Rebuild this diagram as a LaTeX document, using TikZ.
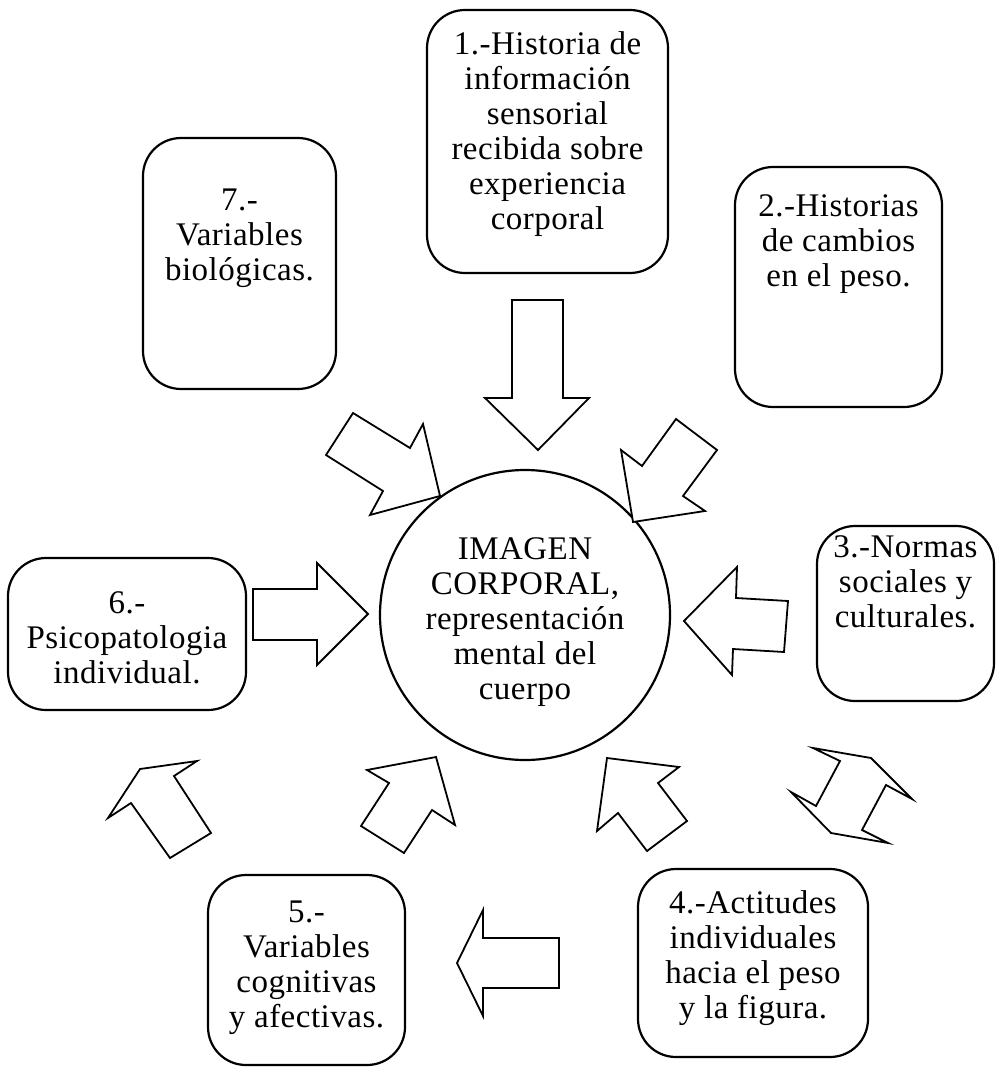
\documentclass[tikz,border=0pt]{standalone}
\usepackage{fontspec}
\setmainfont{Liberation Serif}
\begin{document}
\begin{tikzpicture}[x=1pt,y=-1pt,
  box/.style={draw,line width=2.2pt,rounded corners=38pt,inner sep=0pt,outer sep=0pt},
  txt/.style={align=center,font=\fontsize{33}{35}\selectfont\addfontfeature{LetterSpace=1.5},inner sep=0pt},
  blk/.style={draw,line width=1.8pt,line join=miter,fill=white}]
\useasboundingbox (0,0) rectangle (998,1067);
% boxes
\node[box,minimum width=241pt,minimum height=263pt] (b1) at (547.5,141.5) {};
\node[box,minimum width=193pt,minimum height=251pt] (b7) at (239.5,263.5) {};
\node[box,minimum width=207pt,minimum height=240pt] (b2) at (838.5,287) {};
\node[box,minimum width=177pt,minimum height=175pt] (b3) at (905.5,613.5) {};
\node[box,minimum width=238pt,minimum height=152pt] (b6) at (127,634) {};
\node[box,minimum width=197pt,minimum height=190pt] (b5) at (306.5,970) {};
\node[box,minimum width=230pt,minimum height=188pt] (b4) at (753,963) {};
\node[draw,circle,line width=2.2pt,minimum size=290pt,inner sep=0pt] (c) at (525,615) {};
% texts
\node[txt] (t1) at (547.5,134.5) {1.-Historia de\\información\\sensorial\\recibida sobre\\experiencia\\corporal};
\node[txt] (t7) at (239.5,238) {7.-\\Variables\\biológicas.};
\node[txt] (t2) at (838.5,244) {2.-Historias\\de cambios\\en el peso.};
\node[txt] (t3) at (905.5,582) {3.-Normas\\sociales y\\culturales.};
\node[txt] (t6) at (127,638) {6.-\\Psicopatologia\\individual.};
\node[txt] (t5) at (306.5,968) {5.-\\Variables\\cognitivas\\y afectivas.};
\node[txt] (t4) at (753,958) {4.-Actitudes\\individuales\\hacia el peso\\y la figura.};
\node[txt] (tc) at (525,622) {IMAGEN\\CORPORAL,\\representación\\mental del\\cuerpo};
% block arrows
\draw[blk] (512,300) -- (563,300) -- (563,398) -- (589,398) -- (538,450) -- (485,398) -- (512,398) -- cycle;
\draw[blk] (253,589) -- (317,589) -- (317,563) -- (368,614) -- (317,665) -- (317,640) -- (253,640) -- cycle;
\draw[blk] (684,621) -- (737,567) -- (736,598) -- (788,601) -- (784,652) -- (733,649) -- (732,675) -- cycle;
\draw[blk] (353,413) -- (410,448) -- (423,424) -- (440,496) -- (370,515) -- (383,491) -- (326,455) -- cycle;
\draw[blk] (676,419) -- (717,450) -- (683,496) -- (705,511) -- (633,522) -- (621,450) -- (642,466) -- cycle;
\draw[blk] (140,769) -- (197,761) -- (174,776) -- (211,833) -- (170,858) -- (131,803) -- (108,818) -- cycle;
\draw[blk] (367,770) -- (436,757) -- (455,825) -- (432,810) -- (404,853) -- (361,826) -- (389,783) -- cycle;
\draw[blk] (607,758) -- (679,767) -- (658,783) -- (687,821) -- (647,851) -- (618,813) -- (597,831) -- cycle;
\draw[blk] (457,963) -- (483,910) -- (483,938) -- (559,938) -- (559,988) -- (483,988) -- (483,1016) -- cycle;
\draw[blk] (813,748) -- (871,758) -- (912,799) -- (886,785) -- (862,830) -- (888,843) -- (831,833) -- (791,792) -- (816,806) -- (840,761) -- cycle;
\end{tikzpicture}
\end{document}
